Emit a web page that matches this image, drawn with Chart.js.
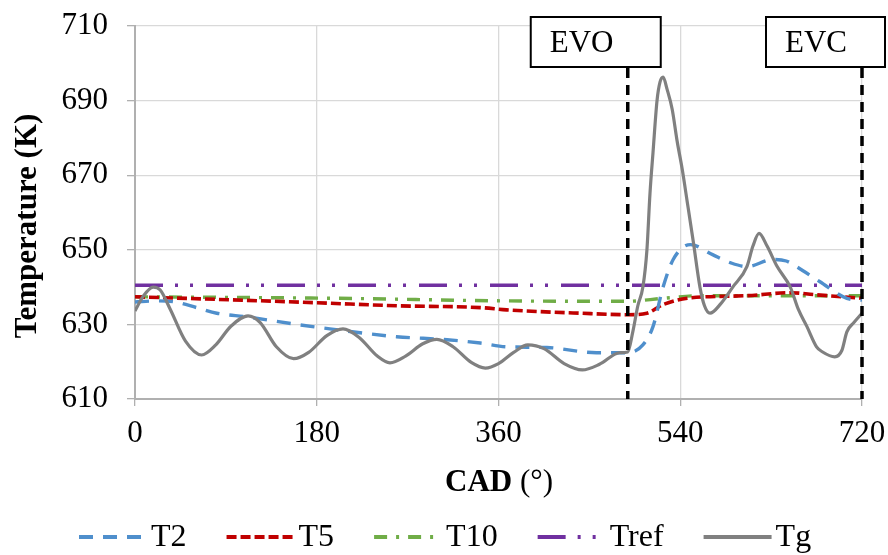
<!DOCTYPE html>
<html>
<head>
<meta charset="utf-8">
<script src="https://cdn.jsdelivr.net/npm/chart.js@4.4.1/dist/chart.umd.min.js"></script>
<style>
  html, body { margin: 0; padding: 0; background: #fff; }
  #wrap { width: 888px; height: 555px; }
</style>
</head>
<body>
<div id="wrap"><canvas id="tempChart" width="888" height="555"></canvas></div>
<script>
// values (CAD in degrees, temperature in K)
const t2Cad  = [0, 20, 40, 61, 81, 111, 160, 193, 259, 309, 342, 368, 408, 457, 488, 503, 513, 523, 533, 550, 572, 590, 606, 632, 645, 655, 678, 705, 720];
const t2Temp = [636, 636.3, 636, 634.5, 633, 632, 630, 628.8, 626.7, 625.9, 625, 624, 623.8, 622.4, 622.4, 624.5, 629.4, 640, 647.4, 651.4, 648.7, 646.5, 645.5, 647.4, 647, 645.5, 641.5, 637, 636.5];

const t5Cad  = [0, 94, 180, 259, 342, 368, 441, 488, 507, 523, 547, 606, 649, 672, 720];
const t5Temp = [637.4, 636.6, 635.8, 635, 634.5, 633.9, 633, 632.6, 633, 635.3, 637, 637.7, 638.5, 638, 637];

const t10Cad  = [0, 200, 368, 488, 523, 560, 720];
const t10Temp = [637.4, 637, 636.3, 636.2, 637, 637.7, 637.7];

const trefCad  = [0, 720];
const trefTemp = [640.5, 640.5];

const tgCad  = [0, 8, 18, 25, 35, 50, 66, 80, 95, 112, 124, 140, 157, 172, 190, 206, 222, 240, 252.5, 268, 285, 299, 315, 333, 347, 360, 375, 389, 405, 425, 443, 460, 480, 488,
                493, 498, 503, 507, 510, 513, 517, 520, 523, 527, 532, 537, 542, 547, 553, 559.5, 564, 569.5, 580, 592, 606, 612, 618, 626, 636, 649, 657, 665.5, 675, 681, 693, 700, 705, 712, 720];
const tgTemp = [633.6, 637.5, 640, 639.2, 634, 625.5, 621.8, 624.5, 629.5, 632.3, 630.5, 624, 620.8, 622.5, 627, 628.8, 626.5, 621.5, 619.7, 621.5, 624.8, 626, 624, 619.8, 618.3, 619.5, 622.5, 624.5, 623.5, 619.5, 617.8, 619.3, 622.4, 622.6,
                628, 635, 640, 650, 665, 676, 690, 695, 696.3, 693, 687.7, 679, 671.5, 662.7, 652, 640, 635, 633, 635.5, 640, 645.5, 651, 654.4, 651, 645.5, 640, 634, 629.4, 624, 622.6, 621.3, 623, 628, 630.5, 633];

const seriesNames = ['T2', 'T5', 'T10', 'Tref', 'Tg'];
const xTicks = [0, 180, 360, 540, 720];
const yTicks = [610, 630, 650, 670, 690, 710];

const eventNames = ['EVO', 'EVC'];
const eventCad = [488, 720];

const colors = ['#4f8fcc', '#c00000', '#70ad47', '#7030a0', '#808080'];
const dashes = [[14, 10], [10, 4], [13, 9, 3, 9], [28, 12, 3, 12, 3, 13], []];
const widths = [3.4, 3.6, 3.4, 3.4, 3.2];

const serif = '"Liberation Serif", "Times New Roman", serif';

function pts(xs, ys) {
  return xs.map((x, i) => ({x: x, y: ys[i]}));
}

const allData = [pts(t2Cad, t2Temp), pts(t5Cad, t5Temp), pts(t10Cad, t10Temp), pts(trefCad, trefTemp), pts(tgCad, tgTemp)];
const drawOrder = [1, 2, 3, 4, 0];

const datasets = seriesNames.map((name, i) => ({
  label: name,
  data: allData[i],
  borderColor: colors[i],
  backgroundColor: colors[i],
  borderWidth: widths[i],
  borderDash: dashes[i],
  pointRadius: 0,
  fill: false,
  cubicInterpolationMode: 'monotone',
  order: drawOrder[i]
}));

// EVO / EVC markers, axis titles and the legend are drawn by hand
const extras = {
  id: 'extras',
  afterDatasetsDraw(chart) {
    const c = chart.ctx;
    const xs = chart.scales.x;
    const area = chart.chartArea;
    const boxes = [{off: -97, w: 130}, {off: -96, w: 119}];
    c.save();
    eventCad.forEach((cad, i) => {
      const px = xs.getPixelForValue(cad);
      c.strokeStyle = '#000';
      c.lineWidth = 3.5;
      c.setLineDash([10, 7]);
      c.beginPath();
      c.moveTo(px, 68);
      c.lineTo(px, area.bottom);
      c.stroke();
      c.setLineDash([]);
      const bx = px + boxes[i].off;
      c.fillStyle = '#fff';
      c.fillRect(bx, 17, boxes[i].w, 50);
      c.lineWidth = 2;
      c.strokeRect(bx, 17, boxes[i].w, 50);
      c.fillStyle = '#000';
      c.font = '31px ' + serif;
      c.textAlign = 'left';
      c.textBaseline = 'middle';
      c.fillText(eventNames[i], bx + 19, 44);
    });
    c.restore();
  },
  afterDraw(chart) {
    const c = chart.ctx;
    c.save();
    c.fillStyle = '#000';
    c.textBaseline = 'middle';
    // y title
    c.save();
    c.translate(28, 226);
    c.rotate(-Math.PI / 2);
    c.textAlign = 'center';
    c.font = 'bold 31px ' + serif;
    c.fillText('Temperature (K)', 0, 0);
    c.restore();
    // x title: bold CAD, plain (°)
    c.font = 'bold 31px ' + serif;
    const w1 = c.measureText('CAD').width;
    c.font = '31px ' + serif;
    const w2 = c.measureText(' (°)').width;
    let sx = 499 - (w1 + w2) / 2;
    c.textAlign = 'left';
    c.font = 'bold 31px ' + serif;
    c.fillText('CAD', sx, 483);
    c.font = '31px ' + serif;
    c.fillText(' (°)', sx + w1, 483);
    // legend
    let lx = 79;
    const ly = 537;
    c.font = '32px ' + serif;
    seriesNames.forEach((name, i) => {
      c.strokeStyle = colors[i];
      c.lineWidth = 4;
      c.setLineDash(dashes[i]);
      c.beginPath();
      c.moveTo(lx, ly);
      c.lineTo(lx + 68, ly);
      c.stroke();
      c.setLineDash([]);
      c.fillText(name, lx + 72, ly + 1);
      lx += 72 + c.measureText(name).width + 40;
    });
    c.restore();
  }
};

const ctx = document.getElementById('tempChart').getContext('2d');

new Chart(ctx, {
  type: 'line',
  data: {datasets: datasets},
  options: {
    responsive: false,
    animation: false,
    layout: {padding: {top: 26, right: 26, bottom: 0, left: 0}},
    scales: {
      x: {
        type: 'linear',
        min: 0,
        max: 720,
        afterBuildTicks: s => { s.ticks = xTicks.map(v => ({value: v})); },
        afterFit: s => { s.height = 156; s.paddingLeft = 0; s.paddingRight = 0; },
        ticks: {color: '#000', font: {family: serif, size: 31}, padding: 9, maxRotation: 0},
        grid: {color: '#d9d9d9', lineWidth: 1.3, tickLength: 7, tickColor: '#b0b0b0'},
        border: {color: '#b0b0b0', width: 2}
      },
      y: {
        min: 610,
        max: 710,
        afterBuildTicks: s => { s.ticks = yTicks.map(v => ({value: v})); },
        afterFit: s => { s.width = 135; s.paddingTop = 0; s.paddingBottom = 0; },
        ticks: {color: '#000', font: {family: serif, size: 31}, padding: 19},
        grid: {color: '#d9d9d9', lineWidth: 1.3, tickLength: 8, tickColor: '#b0b0b0'},
        border: {color: '#b0b0b0', width: 2}
      }
    },
    plugins: {
      legend: {display: false},
      tooltip: {enabled: false}
    }
  },
  plugins: [extras]
});
</script>
</body>
</html>
